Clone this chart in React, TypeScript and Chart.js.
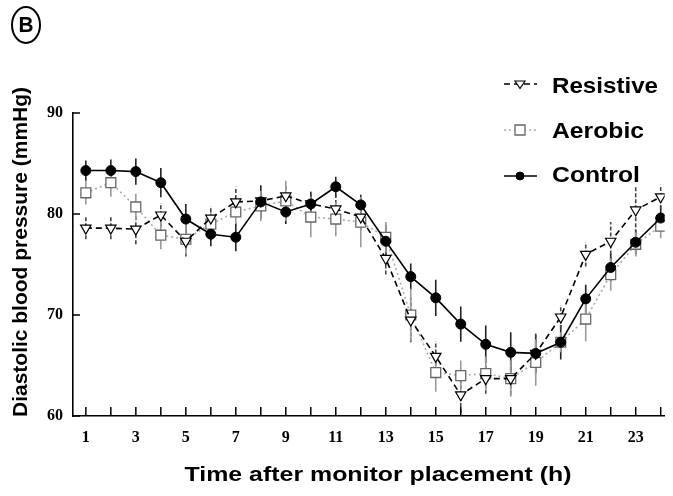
import { useEffect, useRef } from 'react';
import { Chart, registerables } from 'chart.js';

Chart.register(...registerables);

// Hours after the monitor was placed
const hours = [1, 2, 3, 4, 5, 6, 7, 8, 9, 10, 11, 12, 13, 14, 15, 16, 17, 18, 19, 20, 21, 22, 23, 24];

// Mean diastolic blood pressure (mmHg) per group
const resistive = [78.6, 78.6, 78.5, 79.9, 77.3, 79.6, 81.2, 81.3, 81.8, 81.0, 80.5, 79.7, 75.6, 69.5, 65.9, 62.1, 63.7, 63.7, 66.2, 69.8, 76.0, 77.3, 80.4, 81.7];
const aerobic = [82.1, 83.1, 80.7, 77.9, 77.5, 79.0, 80.2, 80.8, 81.3, 79.7, 79.5, 79.2, 77.7, 70.0, 64.3, 64.0, 64.2, 63.7, 65.3, 67.3, 69.6, 74.0, 77.0, 78.8];
const control = [84.3, 84.3, 84.2, 83.1, 79.5, 78.0, 77.7, 81.2, 80.2, 81.0, 82.7, 80.9, 77.3, 73.8, 71.7, 69.1, 67.1, 66.3, 66.2, 67.3, 71.6, 74.7, 77.2, 79.6];

// Standard errors (mmHg) per group
const resistiveErr = [1.1, 1.1, 1.5, 1.2, 1.5, 1.2, 1.5, 1.2, 1.2, 1.2, 1.3, 1.3, 1.6, 2.2, 1.5, 1.8, 1.5, 1.6, 2.0, 1.2, 1.2, 1.9, 2.3, 1.2];
const aerobicErr = [1.15, 1.4, 1.3, 1.4, 1.5, 1.2, 1.2, 1.5, 2.0, 2.0, 1.7, 2.5, 1.5, 2.6, 1.9, 1.5, 1.7, 1.8, 2.3, 1.0, 2.2, 1.6, 1.2, 1.2];
const controlErr = [1.0, 1.1, 1.3, 1.45, 1.5, 1.2, 1.4, 1.65, 1.2, 1.2, 1.0, 1.0, 1.6, 1.3, 1.8, 1.75, 1.85, 2.0, 1.8, 1.7, 1.4, 1.4, 1.2, 1.2];

const yTicks = [60, 70, 80, 90];
const xLabelled = [1, 3, 5, 7, 9, 11, 13, 15, 17, 19, 21, 23];

const panelLetter = 'B';
const xTitle = 'Time after monitor placement (h)';
const yTitle = 'Diastolic blood pressure (mmHg)';

const SANS = '"Liberation Sans", Arial, sans-serif';
const SERIF = '"Liberation Serif", "Times New Roman", serif';

// Draw text stretched horizontally to a given width
function fittedText(ctx: CanvasRenderingContext2D, text: string, x: number, y: number, font: string, width: number, align: 'left' | 'center', rotate = 0) {
  ctx.save();
  ctx.font = font;
  const w = ctx.measureText(text).width;
  const sx = width / w;
  ctx.translate(x, y);
  if (rotate) ctx.rotate(rotate);
  ctx.scale(sx, 1);
  ctx.textAlign = align;
  ctx.textBaseline = 'middle';
  ctx.fillStyle = '#000';
  ctx.fillText(text, 0, 0);
  ctx.restore();
}

const errorBars = {
  id: 'errorBars',
  beforeDatasetsDraw(chart: any) {
    const { ctx, chartArea } = chart;
    const ys = chart.scales.y;
    ctx.save();
    ctx.beginPath();
    ctx.rect(chartArea.left, chartArea.top - 10, chartArea.right - chartArea.left, chartArea.bottom - chartArea.top + 10);
    ctx.clip();
    chart.data.datasets.forEach((ds: any, i: number) => {
      const meta = chart.getDatasetMeta(i);
      const errs: number[] = ds.errors;
      if (!errs) return;
      ctx.strokeStyle = ds.errorColor;
      ctx.lineWidth = 1.6;
      ctx.setLineDash(ds.errorDash || []);
      meta.data.forEach((pt: any, j: number) => {
        const v = ds.data[j];
        ctx.beginPath();
        ctx.moveTo(pt.x, ys.getPixelForValue(v - errs[j]));
        ctx.lineTo(pt.x, ys.getPixelForValue(v + errs[j]));
        ctx.stroke();
      });
    });
    ctx.restore();
  },
};

const decorations = {
  id: 'decorations',
  afterDraw(chart: any) {
    const { ctx, chartArea } = chart;
    const xs = chart.scales.x;
    const ys = chart.scales.y;
    ctx.save();
    ctx.strokeStyle = '#000';
    ctx.lineWidth = 1.5;
    ctx.setLineDash([]);
    // inward tick marks
    hours.forEach((h) => {
      const x = xs.getPixelForValue(h);
      ctx.beginPath();
      ctx.moveTo(x, chartArea.bottom);
      ctx.lineTo(x, chartArea.bottom - 9);
      ctx.stroke();
    });
    yTicks.forEach((v) => {
      const y = ys.getPixelForValue(v);
      ctx.beginPath();
      ctx.moveTo(chartArea.left, y);
      ctx.lineTo(chartArea.left + 7, y);
      ctx.stroke();
    });
    ctx.restore();

    // axis titles
    fittedText(ctx, xTitle, 378, 475, `bold 21px ${SANS}`, 387, 'center');
    fittedText(ctx, yTitle, 21, 252, `bold 21px ${SANS}`, 330, 'center', -Math.PI / 2);

    // panel letter in an ellipse
    ctx.save();
    ctx.strokeStyle = '#000';
    ctx.lineWidth = 2;
    ctx.beginPath();
    ctx.ellipse(26, 25, 14, 18, 0, 0, Math.PI * 2);
    ctx.stroke();
    ctx.restore();
    fittedText(ctx, panelLetter, 26, 26, `bold 22px ${SANS}`, 15, 'center');

    // legend
    const legendItems = [
      { label: 'Resistive', y: 87, text: 106, sym: 84 },
      { label: 'Aerobic', y: 132, text: 92, sym: 130 },
      { label: 'Control', y: 176, text: 88, sym: 176 },
    ];
    chart.data.datasets.forEach((ds: any) => {
      const item = legendItems.find((it) => it.label === ds.label);
      if (!item) return;
      ctx.save();
      ctx.strokeStyle = ds.borderColor;
      ctx.lineWidth = ds.borderWidth;
      ctx.setLineDash(ds.borderDash || []);
      ctx.beginPath();
      ctx.moveTo(504, item.sym);
      ctx.lineTo(537, item.sym);
      ctx.stroke();
      ctx.restore();
      ctx.save();
      ctx.fillStyle = ds.pointBackgroundColor;
      ctx.strokeStyle = ds.pointBorderColor;
      ctx.lineWidth = ds.pointBorderWidth;
      const r = ds.legendRadius;
      const cx = 520;
      const cy = item.sym;
      ctx.beginPath();
      if (ds.pointStyle === 'circle') {
        ctx.arc(cx, cy, r, 0, Math.PI * 2);
      } else if (ds.pointStyle === 'rect') {
        ctx.rect(cx - r, cy - r, 2 * r, 2 * r);
      } else {
        ctx.moveTo(cx - r, cy - r * 0.6);
        ctx.lineTo(cx + r, cy - r * 0.6);
        ctx.lineTo(cx, cy + r * 0.9);
        ctx.closePath();
      }
      ctx.fill();
      ctx.stroke();
      ctx.restore();
      fittedText(ctx, ds.label, 552, item.y, `bold 22px ${SANS}`, item.text, 'left');
    });
  },
};

export default function App() {
  const canvasRef = useRef<HTMLCanvasElement | null>(null);

  useEffect(() => {
    if (!canvasRef.current) return;
    const chart = new Chart(canvasRef.current, {
      type: 'line',
      data: {
        labels: hours,
        datasets: [
          {
            label: 'Control',
            data: control,
            errors: controlErr,
            errorColor: '#222',
            borderColor: '#000',
            borderWidth: 1.6,
            pointStyle: 'circle',
            pointRadius: 5,
            pointBackgroundColor: '#000',
            pointBorderColor: '#000',
            pointBorderWidth: 1,
            legendRadius: 4,
            tension: 0,
          } as any,
          {
            label: 'Resistive',
            data: resistive,
            errors: resistiveErr,
            errorColor: '#444',
            errorDash: [4, 2],
            borderColor: '#000',
            borderWidth: 1.6,
            borderDash: [6, 4],
            pointStyle: 'triangle',
            rotation: 180,
            pointRadius: 6,
            pointBackgroundColor: '#fff',
            pointBorderColor: '#000',
            pointBorderWidth: 1.2,
            legendRadius: 5,
            tension: 0,
          } as any,
          {
            label: 'Aerobic',
            data: aerobic,
            errors: aerobicErr,
            errorColor: '#9a9a9a',
            borderColor: '#aaa',
            borderWidth: 1.6,
            borderDash: [2, 3],
            pointStyle: 'rect',
            pointRadius: 7,
            pointBackgroundColor: '#fff',
            pointBorderColor: '#666',
            pointBorderWidth: 1.3,
            legendRadius: 5,
            tension: 0,
          } as any,
        ],
      },
      options: {
        animation: false,
        responsive: true,
        maintainAspectRatio: false,
        layout: { padding: { top: 113, right: 1, left: 0, bottom: 0 } },
        plugins: { legend: { display: false }, tooltip: { enabled: false } },
        scales: {
          x: {
            type: 'linear',
            min: 0.486,
            max: 24.16,
            afterBuildTicks: (s: any) => {
              s.ticks = xLabelled.map((v) => ({ value: v }));
            },
            afterFit: (s: any) => {
              s.height = 80;
            },
            grid: { drawOnChartArea: false, drawTicks: false },
            border: { display: true, color: '#000', width: 1.6 },
            ticks: {
              autoSkip: false,
              maxRotation: 0,
              padding: 12,
              color: '#000',
              font: { family: SERIF, weight: 'bold', size: 16 },
              callback: (v: any) => String(v),
            },
          },
          y: {
            min: 60,
            max: 90,
            afterBuildTicks: (s: any) => {
              s.ticks = yTicks.map((v) => ({ value: v }));
            },
            afterFit: (s: any) => {
              s.width = 73;
            },
            grid: { drawOnChartArea: false, drawTicks: false },
            border: { display: true, color: '#000', width: 1.6 },
            ticks: {
              padding: 10,
              color: '#000',
              font: { family: SERIF, weight: 'bold', size: 16 },
            },
          },
        },
      },
      plugins: [errorBars, decorations],
    } as any);
    return () => chart.destroy();
  }, []);

  return (
    <div style={{ position: 'fixed', left: 0, top: 0, width: 673, height: 496, background: '#fff' }}>
      <canvas ref={canvasRef} />
    </div>
  );
}
